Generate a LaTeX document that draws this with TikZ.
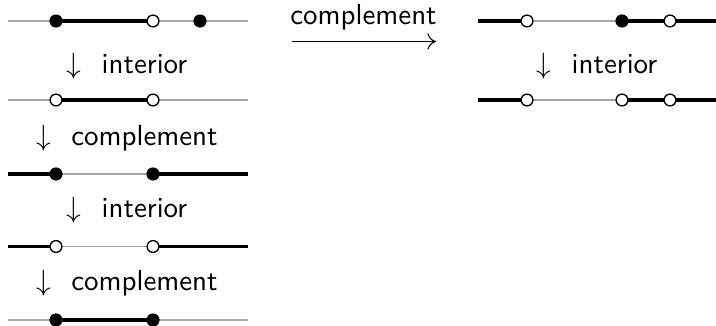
\documentclass[tikz,border=0pt]{standalone}
\usepackage{fontspec}
\usetikzlibrary{arrows.meta}
\renewcommand{\familydefault}{\sfdefault}
\newcommand{\steptext}[1]{$\downarrow$\hspace{0.7em}#1}
\begin{document}
\begin{tikzpicture}[x=0.373pt,y=-0.373pt,
  axisline/.style={draw=black!35,line width=0.55pt},
  setpart/.style={draw=black,line width=1.45pt},
  closedpt/.style={circle,draw=black,fill=black,line width=0.5pt,minimum size=4.4pt,inner sep=0pt},
  openpt/.style={circle,draw=black,fill=white,line width=0.5pt,minimum size=4.4pt,inner sep=0pt},
  steplabel/.style={font=\fontsize{10.8pt}{13pt}\selectfont,inner sep=0pt},
  maparrow/.style={-{Computer Modern Rightarrow[length=3.2pt,width=6pt]},line width=0.4pt}]
\useasboundingbox (0,0) rectangle (716,326);

% ---------- left column ----------
\foreach \r/\y in {1/21,2/100,3/174,4/246.5,5/320}{
  \coordinate (L\r s) at (8,\y);
  \coordinate (L\r a) at (56,\y);
  \coordinate (L\r b) at (153,\y);
  \coordinate (L\r e) at (248,\y);
  \draw[axisline] (L\r s) -- (L\r e);
}
\coordinate (L1c) at (200,21);

\draw[setpart] (L1a) -- (L1b);
\draw[setpart] (L2a) -- (L2b);
\draw[setpart] (L3s) -- (L3a) (L3b) -- (L3e);
\draw[setpart] (L4s) -- (L4a) (L4b) -- (L4e);
\draw[setpart] (L5a) -- (L5b);

\node[closedpt] (p1a) at (L1a) {};
\node[openpt]   (p1b) at (L1b) {};
\node[closedpt] (p1c) at (L1c) {};
\node[openpt]   (p2a) at (L2a) {};
\node[openpt]   (p2b) at (L2b) {};
\node[closedpt] (p3a) at (L3a) {};
\node[closedpt] (p3b) at (L3b) {};
\node[openpt]   (p4a) at (L4a) {};
\node[openpt]   (p4b) at (L4b) {};
\node[closedpt] (p5a) at (L5a) {};
\node[closedpt] (p5b) at (L5b) {};

\node[steplabel] (s1) at (127,66)  {\steptext{interior}};
\node[steplabel] (s2) at (127,138) {\steptext{complement}};
\node[steplabel] (s3) at (127,210) {\steptext{interior}};
\node[steplabel] (s4) at (127,283) {\steptext{complement}};

% ---------- map between the columns ----------
\node[steplabel,anchor=base] (mlabel) at (363.5,25) {complement};
\coordinate (ms) at (292,41.5);
\coordinate (me) at (436,41.5);
\draw[maparrow] (ms) -- (me);

% ---------- right column ----------
\foreach \r/\y in {1/21,2/100}{
  \coordinate (R\r s) at (478,\y);
  \coordinate (R\r a) at (527,\y);
  \coordinate (R\r b) at (622,\y);
  \coordinate (R\r c) at (670,\y);
  \coordinate (R\r e) at (716,\y);
  \draw[axisline] (R\r s) -- (R\r e);
  \draw[setpart] (R\r s) -- (R\r a) (R\r b) -- (R\r e);
}
\node[openpt]   (q1a) at (R1a) {};
\node[closedpt] (q1b) at (R1b) {};
\node[openpt]   (q1c) at (R1c) {};
\node[openpt]   (q2a) at (R2a) {};
\node[openpt]   (q2b) at (R2b) {};
\node[openpt]   (q2c) at (R2c) {};

\node[steplabel] (t1) at (597,66) {\steptext{interior}};
\end{tikzpicture}
\end{document}
